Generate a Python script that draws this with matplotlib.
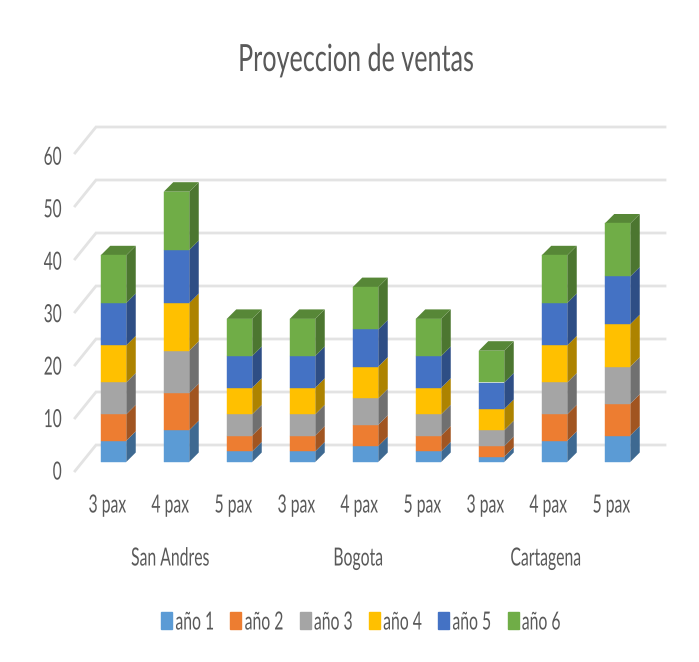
import matplotlib
matplotlib.use('Agg')
import matplotlib.pyplot as plt
from matplotlib.patches import Polygon, Patch
from matplotlib.colors import to_rgb
from matplotlib.patheffects import AbstractPathEffect
from matplotlib.transforms import Affine2D

# Data
cities = ['San Andres', 'Bogota', 'Cartagena']
pax = ['3 pax', '4 pax', '5 pax', '3 pax', '4 pax', '5 pax', '3 pax', '4 pax', '5 pax']
years = ['año 1', 'año 2', 'año 3', 'año 4', 'año 5', 'año 6']
ano1 = [4, 6, 2, 2, 3, 2, 1, 4, 5]
ano2 = [5, 7, 3, 3, 4, 3, 2, 5, 6]
ano3 = [6, 8, 4, 4, 5, 4, 3, 6, 7]
ano4 = [7, 9, 5, 5, 6, 5, 4, 7, 8]
ano5 = [8, 10, 6, 6, 7, 6, 5, 8, 9]
ano6 = [9, 11, 7, 7, 8, 7, 6, 9, 10]
series = [ano1, ano2, ano3, ano4, ano5, ano6]
colors = ['#5B9BD5', '#ED7D31', '#A5A5A5', '#FFC000', '#4472C4', '#70AD47']
yticks = [0, 10, 20, 30, 40, 50, 60]

plt.rcParams['font.family'] = ['Lato', 'DejaVu Sans']
text_color = '#595959'

W, H = 699, 662
x_step = 63.0   # px per category
y_step = 5.3    # px per value unit
x0, y0 = 113.5, 462.0


class Squeeze(AbstractPathEffect):
    # the reference text is squashed sideways, no narrow font here so scale the glyphs
    def __init__(self, sx, anchor=0.5):
        super().__init__()
        self.sx = sx
        self.anchor = anchor

    def draw_path(self, renderer, gc, tpath, affine, rgbFace=None):
        ext = tpath.get_extents()
        cx = ext.x0 + ext.width * self.anchor
        squeeze = Affine2D().translate(-cx, 0).scale(self.sx, 1).translate(cx, 0)
        renderer.draw_path(gc, tpath, squeeze + affine, rgbFace)


fig = plt.figure(figsize=(W / 100, H / 100), dpi=100)
ax = fig.add_axes([0, 0, 1, 1])
ax.set_xlim(-x0 / x_step, (W - x0) / x_step)
ax.set_ylim((y0 - H) / y_step, y0 / y_step)
ax.set_axis_off()

# projected depth of the 3d effect, in data units
dx = 9.5 / x_step
dy = 9.5 / y_step
width = 25.5 / x_step


def shade(c, f):
    r, g, b = to_rgb(c)
    return (r * f, g * f, b * f)


# back wall grid lines + floor diagonals
back_x0 = (96 - x0) / x_step
back_x1 = (665 - x0) / x_step
front_x = (75 - x0) / x_step
back_y = 17 / y_step
front_y = -9 / y_step
squeeze_c = [Squeeze(0.63)]
for v in yticks:
    ax.plot([front_x, back_x0, back_x1], [v + front_y, v + back_y, v + back_y],
            color='#E3E3E3', lw=2, zorder=1, solid_joinstyle='miter')
    ax.text((62 - x0) / x_step, v * 0.99 + front_y - 0.2, str(v), color=text_color, fontsize=18,
            ha='right', va='center', path_effects=[Squeeze(0.62, anchor=1)])

# stacked boxes
for i in range(len(pax)):
    bottom = 0
    left = i - width / 2
    right = i + width / 2
    for s, vals in enumerate(series):
        v = vals[i]
        top = bottom + v
        ax.bar(i, v, width=width, bottom=bottom, color=colors[s], edgecolor=colors[s], lw=0.3,
               zorder=3 + s * 0.1)
        ax.add_patch(Polygon([(right, bottom), (right + dx, bottom + dy),
                              (right + dx, top + dy), (right, top)],
                             closed=True, fc=shade(colors[s], 0.68), ec='none', zorder=2 + s * 0.1))
        bottom = top
    ax.add_patch(Polygon([(left, bottom), (right, bottom), (right + dx, bottom + dy),
                          (left + dx, bottom + dy)],
                         closed=True, fc=shade(colors[-1], 0.78), ec='none', zorder=3))

# axis text
for i, name in enumerate(pax):
    ax.text(i - 0.1, (y0 - 505) / y_step, name, color=text_color, fontsize=18, ha='center', va='center',
            path_effects=squeeze_c)
for c, name in enumerate(cities):
    ax.text(2.98 * c + 0.9, (y0 - 558) / y_step, name, color=text_color, fontsize=18, ha='center', va='center',
            path_effects=squeeze_c)

fig.text(356 / W, 1 - 60 / H, 'Proyeccion de ventas', color=text_color, fontsize=27, ha='center', va='center',
         path_effects=[Squeeze(0.67)])

handles = [Patch(color=c, label=y) for c, y in zip(colors, years)]
leg = fig.legend(handles=handles, loc='center', bbox_to_anchor=(372 / W, 1 - 622 / H), ncol=6, frameon=False,
                 fontsize=18, labelcolor=text_color, handlelength=0.44, handleheight=0.68,
                 handletextpad=0.12, columnspacing=-0.24)
for t in leg.get_texts():
    t.set_path_effects([Squeeze(0.63, anchor=0)])

fig.savefig('out.png', dpi=100, facecolor='white')
